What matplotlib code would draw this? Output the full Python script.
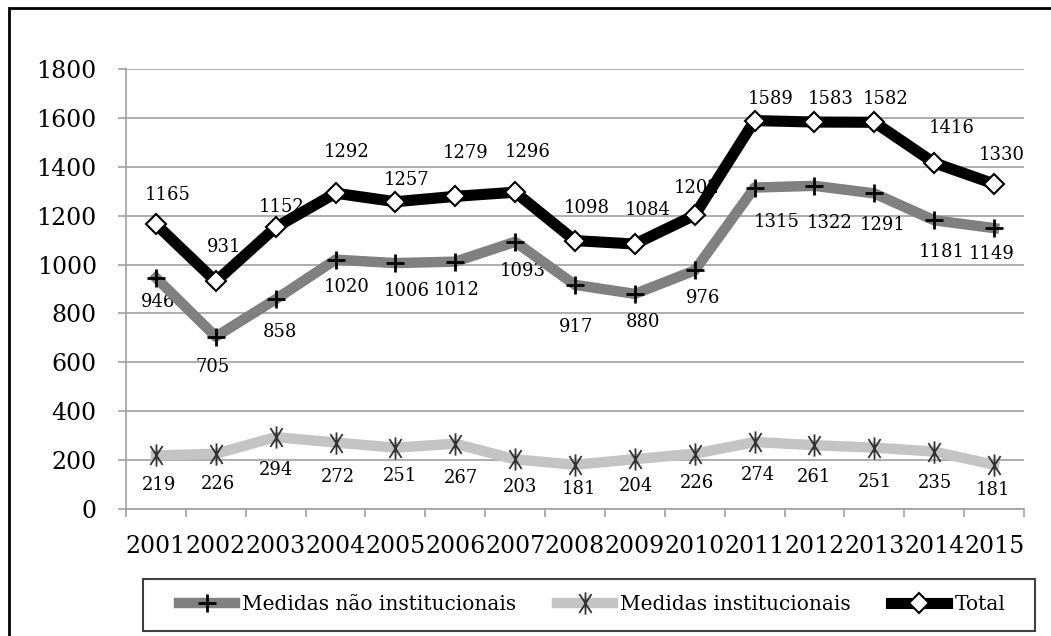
import matplotlib
matplotlib.use("Agg")
import matplotlib.pyplot as plt
from matplotlib.patches import Rectangle
from matplotlib.path import Path

plt.rcParams['font.family'] = ['DejaVu Serif']

anos = ['2001', '2002', '2003', '2004', '2005', '2006', '2007', '2008',
        '2009', '2010', '2011', '2012', '2013', '2014', '2015']
nao_inst = [946, 705, 858, 1020, 1006, 1012, 1093, 917, 880, 976,
            1315, 1322, 1291, 1181, 1149]
inst = [219, 226, 294, 272, 251, 267, 203, 181, 204, 226,
        274, 261, 251, 235, 181]
total = [1165, 931, 1152, 1292, 1257, 1279, 1296, 1098, 1084, 1202,
         1589, 1583, 1582, 1416, 1330]

# label offsets in pixels (dx, dy)
off_total = [(12, 29), (8, 34), (6, 20), (11, 41), (11, 22), (10, 43), (13, 40),
             (12, 33), (13, 34), (2, 27), (16, 22), (16, 23), (11, 23), (17, 35), (8, 29)]
off_nao = [(2, -24), (-3, -30), (4, -33), (11, -27), (11, -28), (1, -28), (8, -29),
           (1, -42), (8, -28), (8, -28), (22, -34), (15, -37), (8, -32), (8, -32), (-2, -26)]
off_inst = [(3, -30), (2, -30), (0, -33), (2, -34), (5, -28), (6, -34), (5, -28),
            (4, -24), (1, -27), (2, -29), (3, -33), (0, -32), (1, -34), (1, -31), (-1, -25)]

# excel-like star: vertical bar plus a narrow X
star = Path([(0, -1), (0, 1), (-0.55, -0.85), (0.55, 0.85), (0.55, -0.85), (-0.55, 0.85)],
            [Path.MOVETO, Path.LINETO] * 3)

fig = plt.figure(figsize=(10.51, 6.36), dpi=100)
ax = fig.add_axes([126/1051, 1 - 509/636, 898/1051, 440/636])

x = range(len(anos))
l1, = ax.plot(x, nao_inst, color='#808080', lw=7.5, marker='+', ms=13,
              mec='black', mew=2, zorder=4, label='Medidas não institucionais')
l2, = ax.plot(x, inst, color='#c4c4c4', lw=7.5, marker=star, ms=16,
              mec='#333333', mew=1.3, zorder=4, label='Medidas institucionais')
l3, = ax.plot(x, total, color='black', lw=8, marker='D', ms=10,
              mfc='white', mec='black', mew=1.5, zorder=5, label='Total')

for vals, offs in ((total, off_total), (nao_inst, off_nao), (inst, off_inst)):
    for i, (v, o) in enumerate(zip(vals, offs)):
        ax.annotate(str(v), (i, v), xytext=o, textcoords='offset pixels',
                    ha='center', va='center', fontsize=13, zorder=3)

ax.set_xlim(-0.5, len(anos) - 0.5)
ax.set_ylim(0, 1800)
ax.set_yticks(range(0, 1801, 200))
ax.yaxis.grid(True, color='#a0a0a0', lw=1.2)
ax.set_axisbelow(True)
ax.set_xticks(list(x))
ax.set_xticklabels(anos)
ax.set_xticks([i - 0.5 for i in range(len(anos) + 1)], minor=True)
ax.tick_params(axis='x', which='major', length=0, pad=19, labelsize=17)
ax.tick_params(axis='x', which='minor', length=6, color='#a0a0a0', width=1.2)
ax.tick_params(axis='y', length=6, color='#a0a0a0', width=1.2, pad=15, labelsize=17)
for s in ('top', 'right'):
    ax.spines[s].set_visible(False)
for s in ('left', 'bottom'):
    ax.spines[s].set_color('#a0a0a0')
    ax.spines[s].set_linewidth(1.2)

# legend box
fig.patches.append(Rectangle((143/1051, 1 - 631/636), 892/1051, 52/636,
                             transform=fig.transFigure, fill=False,
                             ec='#404040', lw=1.5))
fig.legend(handles=[l1, l2, l3], loc='center', ncol=3, frameon=False,
           bbox_to_anchor=(592/1051, 1 - 605/636), fontsize=14.5,
           handlelength=2.8, handletextpad=0.35, columnspacing=2.0,
           numpoints=1)

# outer border
fig.patches.append(Rectangle((9/1051, -0.1), 1.1, 1.1 - 8/636,
                             transform=fig.transFigure, fill=False,
                             ec='black', lw=2))

fig.savefig('out.png', dpi=100)
